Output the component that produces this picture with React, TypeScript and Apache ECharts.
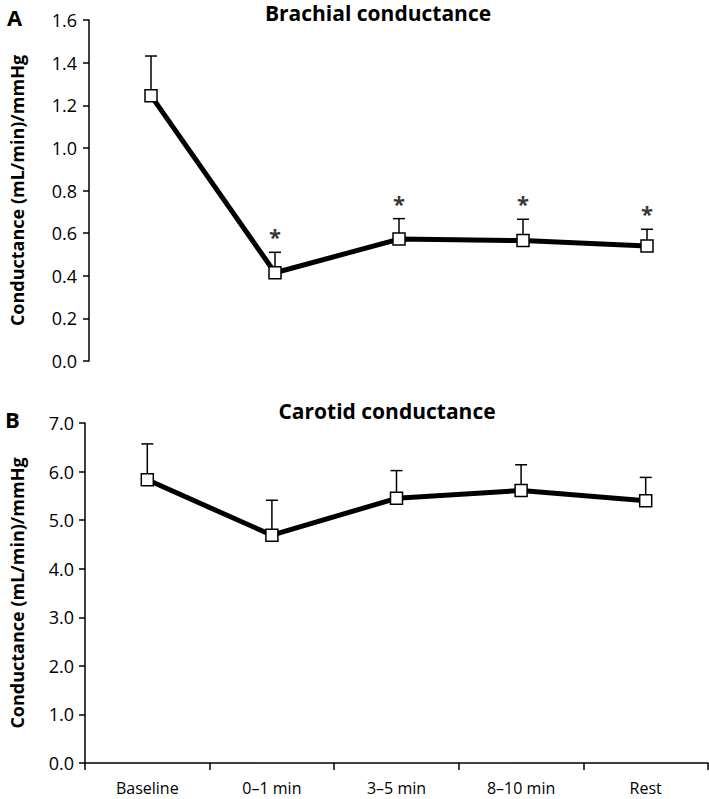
import React, { useEffect, useRef } from "react";
import * as echarts from "echarts";

const categories = ["Baseline", "0–1 min", "3–5 min", "8–10 min", "Rest"];
const brachialMean = [1.245, 0.414, 0.572, 0.565, 0.54];
const brachialSE = [0.186, 0.096, 0.096, 0.1, 0.078];
const brachialSig = [0, 1, 1, 1, 1];
const carotidMean = [5.83, 4.69, 5.45, 5.61, 5.4];
const carotidSE = [0.74, 0.72, 0.57, 0.53, 0.48];
const brachialTicks = { min: 0, max: 1.6, interval: 0.2 };
const carotidTicks = { min: 0, max: 7, interval: 1 };

const FONT = "'Open Sans'";
const AXIS_NAME = "Conductance (mL/min)/mmHg";

function errSeries(mean: number[], se: number[], idx: number) {
  return {
    type: "custom",
    xAxisIndex: idx,
    yAxisIndex: idx,
    z: 1,
    encode: { x: 0, y: 1 },
    data: mean.map((m, i) => [i, m, se[i]]),
    renderItem: (params: any, api: any) => {
      const i = api.value(0);
      const m = api.value(1);
      const s = api.value(2);
      const p = api.coord([i, m]);
      const t = api.coord([i, m + s]);
      return {
        type: "group",
        children: [
          { type: "line", shape: { x1: p[0], y1: p[1], x2: t[0], y2: t[1] }, style: { stroke: "#000", lineWidth: 1.5 } },
          { type: "line", shape: { x1: t[0] - 6, y1: t[1], x2: t[0] + 6, y2: t[1] }, style: { stroke: "#000", lineWidth: 1.5 } },
        ],
      };
    },
  };
}

function sigSeries(mean: number[], se: number[], sig: number[], idx: number) {
  return {
    type: "scatter",
    xAxisIndex: idx,
    yAxisIndex: idx,
    z: 4,
    symbolSize: 0,
    itemStyle: { color: "rgba(0,0,0,0)" },
    data: mean.map((m, i) => (sig[i] ? m + se[i] : "-")),
    label: {
      show: true,
      position: "top",
      distance: 5,
      formatter: "*",
      color: "#000",
      fontFamily: FONT,
      fontWeight: "bold",
      fontSize: 22,
    },
  };
}

function lineSeries(mean: number[], idx: number) {
  return {
    type: "line",
    xAxisIndex: idx,
    yAxisIndex: idx,
    z: 3,
    data: mean,
    symbol: "rect",
    symbolSize: 12,
    lineStyle: { color: "#000", width: 5 },
    itemStyle: { color: "#fff", borderColor: "#000", borderWidth: 1.5 },
  };
}

function yAxis(idx: number, t: { min: number; max: number; interval: number }, gap: number, margin: number) {
  return {
    type: "value",
    gridIndex: idx,
    min: t.min,
    max: t.max,
    interval: t.interval,
    name: AXIS_NAME,
    nameLocation: "middle",
    nameGap: gap,
    nameTextStyle: { fontFamily: FONT, fontWeight: "bold", fontSize: 18, color: "#000" },
    axisLine: { show: true, lineStyle: { color: "#000", width: 1.5 } },
    axisTick: { show: true, length: 6, lineStyle: { color: "#000", width: 1.5 } },
    axisLabel: { formatter: (v: number) => v.toFixed(1), fontFamily: FONT, fontSize: 18, color: "#000", margin },
    splitLine: { show: false },
  };
}

export default function App() {
  const ref = useRef<HTMLDivElement>(null);
  useEffect(() => {
    if (!ref.current) return;
    const chart = echarts.init(ref.current, null, { renderer: "svg" });
    chart.setOption({
      animation: false,
      backgroundColor: "#fff",
      grid: [
        { left: 80, top: 20, width: 629, height: 341 },
        { left: 76, top: 423, width: 632, height: 340 },
      ],
      xAxis: [
        { type: "category", gridIndex: 0, data: categories, show: false, boundaryGap: true },
        {
          type: "category",
          gridIndex: 1,
          data: categories,
          boundaryGap: true,
          axisLine: { show: true, lineStyle: { color: "#000", width: 1.5 } },
          axisTick: { show: true, length: 7, lineStyle: { color: "#000", width: 1.5 } },
          axisLabel: { fontFamily: FONT, fontSize: 16, lineHeight: 16, color: "#000", margin: 17 },
        },
      ],
      yAxis: [yAxis(0, brachialTicks, 63, 12), yAxis(1, carotidTicks, 59, 11)],
      series: [
        errSeries(brachialMean, brachialSE, 0),
        lineSeries(brachialMean, 0),
        sigSeries(brachialMean, brachialSE, brachialSig, 0),
        errSeries(carotidMean, carotidSE, 1),
        lineSeries(carotidMean, 1),
      ],
      graphic: [
        { type: "text", left: 7, top: 6, style: { text: "A", font: `bold 22px ${FONT}`, fill: "#000" } },
        { type: "text", left: 5, top: 408, style: { text: "B", font: `bold 22px ${FONT}`, fill: "#000" } },
        {
          type: "text",
          x: 378,
          y: 13,
          style: { text: "Brachial conductance", font: `bold 21px ${FONT}`, lineHeight: 22, fill: "#000", textAlign: "center", textVerticalAlign: "middle" },
        },
        {
          type: "text",
          x: 387,
          y: 411,
          style: { text: "Carotid conductance", font: `bold 21px ${FONT}`, lineHeight: 22, fill: "#000", textAlign: "center", textVerticalAlign: "middle" },
        },
      ],
    });
    return () => chart.dispose();
  }, []);
  return <div ref={ref} style={{ position: "fixed", left: 0, top: 0, width: 709, height: 799 }} />;
}
